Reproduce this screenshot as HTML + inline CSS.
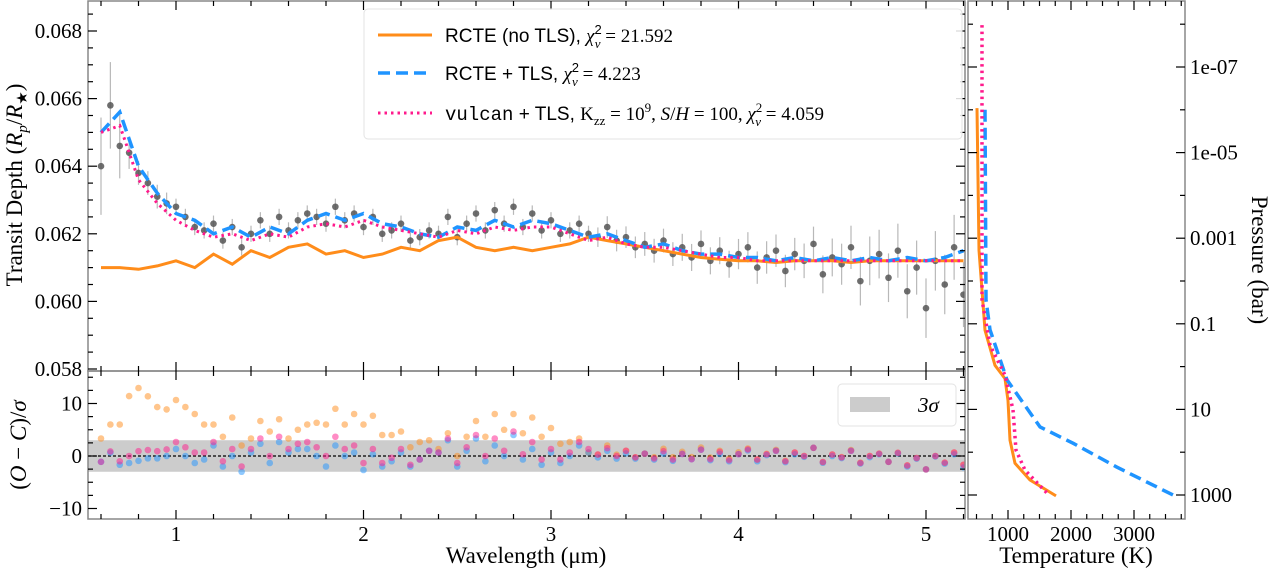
<!DOCTYPE html>
<html><head><meta charset="utf-8"><style>
body{margin:0;background:#fff;}
svg{display:block;font-family:"Liberation Serif",serif;}
.tk{font-size:21px;fill:#000;font-family:"Liberation Serif",serif}
</style></head><body>
<svg id="c" width="1273" height="572" viewBox="0 0 1273 572" xmlns="http://www.w3.org/2000/svg">
<defs>
<clipPath id="cpTop"><rect x="88" y="1" width="877" height="370"/></clipPath>
<clipPath id="cpBot"><rect x="88" y="371" width="877" height="148"/></clipPath>
<clipPath id="cpR"><rect x="968" y="1" width="217" height="518"/></clipPath>
</defs>
<g id="gtop"></g>
<g id="gbot"></g>
<g id="grp"></g>
<text x="22" y="185" transform="rotate(-90 22 185)" text-anchor="middle" font-size="23" font-family="Liberation Serif, serif">Transit Depth (<tspan font-style="italic">R</tspan><tspan font-style="italic" font-size="15" dy="5">p</tspan><tspan dy="-5">/</tspan><tspan font-style="italic">R</tspan><tspan font-size="15" dy="5">★</tspan><tspan dy="-5">)</tspan></text>
<text x="26" y="445" transform="rotate(-90 26 445)" text-anchor="middle" font-size="23" font-family="Liberation Serif, serif">(<tspan font-style="italic">O</tspan> − <tspan font-style="italic">C</tspan>)/<tspan font-style="italic">σ</tspan></text>
<text x="526" y="563" text-anchor="middle" font-size="23" font-family="Liberation Serif, serif">Wavelength (μm)</text>
<text x="1076" y="563" text-anchor="middle" font-size="23" font-family="Liberation Serif, serif">Temperature (K)</text>
<text x="1252" y="260" transform="rotate(90 1252 260)" text-anchor="middle" font-size="23" font-family="Liberation Serif, serif">Pressure (bar)</text>
</svg>
<script>
// ---- data ----
const obsWave = [0.60,0.65,0.70,0.75,0.80,0.85,0.90,0.95,1.00,1.05,1.10,1.15,1.20,1.25,1.30,1.35,1.40,1.45,1.50,1.55,1.60,1.65,1.70,1.75,1.80,1.85,1.90,1.95,2.00,2.05,2.10,2.15,2.20,2.25,2.30,2.35,2.40,2.45,2.50,2.55,2.60,2.65,2.70,2.75,2.80,2.85,2.90,2.95,3.00,3.05,3.10,3.15,3.20,3.25,3.30,3.35,3.40,3.45,3.50,3.55,3.60,3.65,3.70,3.75,3.80,3.85,3.90,3.95,4.00,4.05,4.10,4.15,4.20,4.25,4.30,4.35,4.40,4.45,4.50,4.55,4.60,4.65,4.70,4.75,4.80,4.85,4.90,4.95,5.00,5.05,5.10,5.15,5.20,5.25];
const obsDepth = [64.0,65.8,64.6,64.4,63.8,63.5,63.1,62.9,62.8,62.5,62.2,62.1,62.3,61.8,62.2,61.6,62.0,62.4,62.0,62.5,62.1,62.4,62.6,62.5,62.3,62.8,62.4,62.6,62.2,62.5,62.0,62.1,62.3,61.8,61.9,62.1,62.0,62.5,61.9,62.3,62.6,62.1,62.7,62.3,62.8,62.2,62.6,62.1,62.4,62.0,62.1,62.3,62.0,61.9,62.2,61.8,61.9,61.6,61.7,61.5,61.8,61.4,61.6,61.3,61.7,61.2,61.5,61.1,61.4,61.6,61.0,61.3,61.5,60.9,61.4,61.2,61.7,60.8,61.3,61.1,61.6,60.6,61.2,61.4,60.7,61.5,60.3,61.0,59.8,61.2,60.5,61.6,60.2,61.0];
const obsErr = [0.9,0.8,0.6,0.3,0.22,0.22,0.22,0.2,0.15,0.15,0.15,0.15,0.15,0.15,0.15,0.15,0.15,0.15,0.15,0.15,0.15,0.15,0.15,0.15,0.15,0.15,0.15,0.15,0.15,0.15,0.15,0.15,0.15,0.15,0.15,0.15,0.15,0.15,0.15,0.15,0.15,0.15,0.15,0.15,0.15,0.15,0.15,0.15,0.15,0.15,0.15,0.15,0.15,0.18,0.2,0.2,0.2,0.2,0.22,0.22,0.22,0.22,0.25,0.25,0.25,0.25,0.25,0.25,0.28,0.28,0.3,0.3,0.3,0.3,0.3,0.32,0.32,0.35,0.35,0.38,0.4,0.45,0.45,0.45,0.45,0.5,0.5,0.5,0.55,0.55,0.55,0.6,0.6,0.6];
const modelWave = [0.6,0.7,0.8,0.9,1.0,1.1,1.2,1.3,1.4,1.5,1.6,1.7,1.8,1.9,2.0,2.1,2.2,2.3,2.4,2.5,2.6,2.7,2.8,2.9,3.0,3.1,3.2,3.3,3.4,3.5,3.6,3.7,3.8,3.9,4.0,4.1,4.2,4.3,4.4,4.5,4.6,4.7,4.8,4.9,5.0,5.1,5.2];
const rcteNoTls = [61.0,61.0,60.95,61.05,61.2,61.0,61.4,61.1,61.5,61.3,61.6,61.7,61.4,61.5,61.3,61.4,61.6,61.5,61.8,61.9,61.6,61.5,61.6,61.5,61.6,61.7,61.9,61.8,61.7,61.6,61.5,61.4,61.3,61.25,61.2,61.2,61.15,61.2,61.2,61.2,61.15,61.2,61.2,61.2,61.2,61.2,61.2];
const rcteTls = [65.0,65.6,64.0,63.2,62.6,62.4,62.0,62.2,61.9,62.2,62.0,62.4,62.6,62.4,62.6,62.3,62.2,62.0,61.9,62.2,62.1,62.4,62.2,62.4,62.3,62.1,61.9,62.0,61.8,61.6,61.7,61.5,61.4,61.4,61.3,61.3,61.2,61.3,61.2,61.3,61.2,61.3,61.2,61.3,61.2,61.3,61.5];
const vulcanTls = [65.0,65.2,63.6,62.9,62.4,62.1,61.9,62.0,61.8,62.0,61.9,62.2,62.3,62.2,62.4,62.2,62.1,62.0,61.9,62.1,62.0,62.2,62.1,62.2,62.2,62.0,61.8,61.9,61.7,61.6,61.6,61.5,61.4,61.3,61.3,61.2,61.2,61.2,61.2,61.2,61.2,61.2,61.2,61.2,61.2,61.2,61.2];
const tpOrangeT = [508,540,635,794,952,1000,1032,1111,1349,1762];
const tpOrangeLogP = [-6.04,-2.72,-0.85,-0.03,0.28,0.79,1.72,2.26,2.65,3.02];
const tpBlueT = [635,651,714,984,1508,2032,2730,3619];
const tpBlueLogP = [-6.0,-1.56,-0.86,0.31,1.41,1.79,2.35,3.0];
const tpPinkT = [587,587,714,952,1079,1127,1270,1635];
const tpPinkLogP = [-7.98,-1.56,-0.5,0.2,1.01,1.95,2.42,2.98];
const depthTicks = [0.058,0.060,0.062,0.064,0.066,0.068];
const waveTicks = [1,2,3,4,5];
const residTicks = [-10,0,10];
const tempTicks = [1000,2000,3000];
const pressTicks = [-7,-5,-3,-1,1,3];
const pressLabels = ["1e-07","1e-05","0.001","0.1","10","1000"];

// ---- axes ----
const NS="http://www.w3.org/2000/svg";
const xW = w => 176 + (w-1)*187.5;
const yD = d => 31 + (0.068-d)/0.001*33.8;
const yR = r => 456 - r*5.25;
const xT = t => 1008 + (t-1000)*0.063;
const yP = lp => 67 + (lp+7)*42.8;
const COL={orange:"#ff8c1a",blue:"#1f94ff",pink:"#ff1a8c"};
function mk(tag,attrs,parent){const e=document.createElementNS(NS,tag);for(const k in attrs)e.setAttribute(k,attrs[k]);parent.appendChild(e);return e;}
const gTop=document.getElementById('gtop'),gBot=document.getElementById('gbot'),gRp=document.getElementById('grp');
function interp(xs,ys,x){for(let i=0;i<xs.length-1;i++){if(x<=xs[i+1]){const f=(x-xs[i])/(xs[i+1]-xs[i]);return ys[i]+f*(ys[i+1]-ys[i]);}}return ys[ys.length-1];}

const gT=mk('g',{'clip-path':'url(#cpTop)'},gTop);
obsWave.forEach((w,i)=>{
  const d=obsDepth[i]/1000,e=obsErr[i]/1000*1.6;
  const l=mk('line',{x1:xW(w),x2:xW(w),y1:yD(d-e),y2:yD(d+e),stroke:'#b8b8b8','stroke-width':1.2},gT);
  
  
  const c=mk('circle',{cx:xW(w),cy:yD(d),r:3.3,fill:'#555','fill-opacity':0.85},gT);
  
  
});
function modelPath(arr,g,color,dash,name,sw){
  const d=modelWave.map((w,i)=>(i?'L':'M')+xW(w).toFixed(1)+' '+yD(arr[i]/1000).toFixed(1)).join(' ');
  const p=mk('path',{d:d,fill:'none',stroke:color,'stroke-width':sw,'stroke-dasharray':dash},g);
  
  
}
modelPath(rcteNoTls,gT,COL.orange,'none','rcte-no-tls-line',3);
modelPath(rcteTls,gT,COL.blue,'12 6','rcte-tls-line',3.5);
modelPath(vulcanTls,gT,COL.pink,'2.5 4','vulcan-tls-line',3);

const gB=mk('g',{'clip-path':'url(#cpBot)'},gBot);
mk('rect',{x:88,y:yR(3),width:877,height:yR(-3)-yR(3),fill:'#cccccc'},gB);
mk('line',{x1:88,x2:965,y1:yR(0),y2:yR(0),stroke:'#000','stroke-width':1.2,'stroke-dasharray':'3 2'},gB);
[[rcteNoTls,COL.orange,'residual-rcte-no-tls'],[rcteTls,COL.blue,'residual-rcte-tls'],[vulcanTls,COL.pink,'residual-vulcan-tls']].forEach(([m,col,nm])=>{
  obsWave.forEach((w,i)=>{
    const r=(obsDepth[i]-interp(modelWave,m,w))/obsErr[i];
    const c=mk('circle',{cx:xW(w),cy:yR(r),r:3.3,fill:col,'fill-opacity':0.5},gB);
    
    
  });
});

const gR=mk('g',{'clip-path':'url(#cpR)'},gRp);
function tp(T,L,color,dash,name,sw){
  const d=T.map((t,i)=>(i?'L':'M')+xT(t).toFixed(1)+' '+yP(L[i]).toFixed(1)).join(' ');
  const p=mk('path',{d:d,fill:'none',stroke:color,'stroke-width':sw,'stroke-dasharray':dash,'stroke-linejoin':'round'},gR);
  
  
}
tp(tpOrangeT,tpOrangeLogP,COL.orange,'none','tp-rcte-no-tls',3);
tp(tpBlueT,tpBlueLogP,COL.blue,'12 6','tp-rcte-tls',3.5);
tp(tpPinkT,tpPinkLogP,COL.pink,'2.5 4','tp-vulcan-tls',3.5);

const svgRoot=document.getElementById('c');
function frame(x,y,w,h,name){const r=mk('rect',{x:x,y:y,width:w,height:h,fill:'none',stroke:'#888','stroke-width':1.5},svgRoot);}
frame(88,1,877,370,'top-frame');frame(88,371,877,148,'bottom-frame');frame(968,1,217,518,'right-frame');
function tk(x1,y1,x2,y2){mk('line',{x1:x1,y1:y1,x2:x2,y2:y2,stroke:'#000','stroke-width':1.2},svgRoot);}
function lbl(x,y,t,anchor,name){const e=mk('text',{x:x,y:y,'text-anchor':anchor,class:'tk','font-family':'Liberation Serif, serif'},svgRoot);e.textContent=t;}
for(let k=0;k<=23;k++){const w=0.6+k*0.2;const x=xW(w);const maj=Math.abs(w-Math.round(w))<0.01;const L=maj?9:5;
  tk(x,1,x,1+L);tk(x,371,x,371-L);tk(x,371,x,371+L);tk(x,519,x,519-L);}
waveTicks.forEach(w=>lbl(xW(w),541,String(w),'middle','wavelength-tick-label'));
for(let k=0;k<=21;k++){const d=0.058+k*0.0005;const y=yD(d);if(y<1)continue;const maj=k%4==0;const L=maj?9:5;tk(88,y,88+L,y);tk(965,y,965-L,y);}
depthTicks.forEach(d=>lbl(82,yD(d)+7,d.toFixed(3),'end','depth-tick-label'));
for(let k=0;k<=10;k++){const r=-10+k*2.5;const y=yR(r);const maj=k%4==0;const L=maj?9:5;tk(88,y,88+L,y);tk(965,y,965-L,y);}
residTicks.forEach(r=>lbl(82,yR(r)+7,r<0?'−'+Math.abs(r):String(r),'end','residual-tick-label'));
for(let t=500;t<=3750;t+=250){const x=xT(t);const maj=t%1000==0;const L=maj?9:5;tk(x,519,x,519-L);tk(x,1,x,1+L);}
tempTicks.forEach(t=>lbl(xT(t),541,String(t),'middle','temperature-tick-label'));
for(let lp=-8;lp<=3;lp++){const y=yP(lp);const maj=pressTicks.includes(lp);const L=maj?9:5;tk(1185,y,1185-L,y);tk(968,y,968+L,y);}
pressTicks.forEach((lp,i)=>lbl(1190,yP(lp)+7,pressLabels[i],'start','pressure-tick-label'));
</script>
<svg style="position:absolute;left:0;top:0" width="1273" height="572">
<g font-family="Liberation Sans, sans-serif" font-size="19">
<rect x="364" y="9" width="598" height="130" rx="4" fill="#fff" fill-opacity="0.85" stroke="#e3e3e3"/>
<g><line x1="378" x2="432" y1="35" y2="35" stroke="#ff8c1a" stroke-width="3"/><text x="445" y="42">RCTE (no TLS), <tspan font-family="Liberation Serif" font-style="italic">χ</tspan><tspan font-size="13" dy="-8">2</tspan><tspan font-family="Liberation Serif" font-style="italic" font-size="13" dx="-7" dy="14">ν</tspan><tspan font-family="Liberation Serif" dy="-6"> = 21.592</tspan></text></g>
<g><line x1="378" x2="432" y1="73" y2="73" stroke="#1f94ff" stroke-width="3.5" stroke-dasharray="12 6"/><text x="445" y="80">RCTE + TLS, <tspan font-family="Liberation Serif" font-style="italic">χ</tspan><tspan font-size="13" dy="-8">2</tspan><tspan font-family="Liberation Serif" font-style="italic" font-size="13" dx="-7" dy="14">ν</tspan><tspan font-family="Liberation Serif" dy="-6"> = 4.223</tspan></text></g>
<g><line x1="378" x2="432" y1="113" y2="113" stroke="#ff1a8c" stroke-width="3" stroke-dasharray="2.5 4"/><text x="445" y="120"><tspan font-family="Liberation Mono">vulcan</tspan> + TLS, <tspan font-family="Liberation Serif">K<tspan font-size="13" dy="5">zz</tspan><tspan dy="-5"> = 10</tspan><tspan font-size="13" dy="-8">9</tspan><tspan dy="8">, </tspan><tspan font-style="italic">S</tspan>/<tspan font-style="italic">H</tspan> = 100, <tspan font-style="italic">χ</tspan><tspan font-size="13" dy="-8">2</tspan><tspan font-style="italic" font-size="13" dx="-7" dy="14">ν</tspan><tspan dy="-6"> = 4.059</tspan></tspan></text></g>
</g>
<g>
<rect x="838" y="384" width="118" height="42" rx="4" fill="#fff" fill-opacity="0.85" stroke="#e3e3e3"/>
<rect x="850" y="397" width="40" height="15" fill="#cccccc"/>
<text x="918" y="412" font-family="Liberation Serif, serif" font-size="21" font-style="italic">3σ</text>
</g>
</svg>
</body></html>
